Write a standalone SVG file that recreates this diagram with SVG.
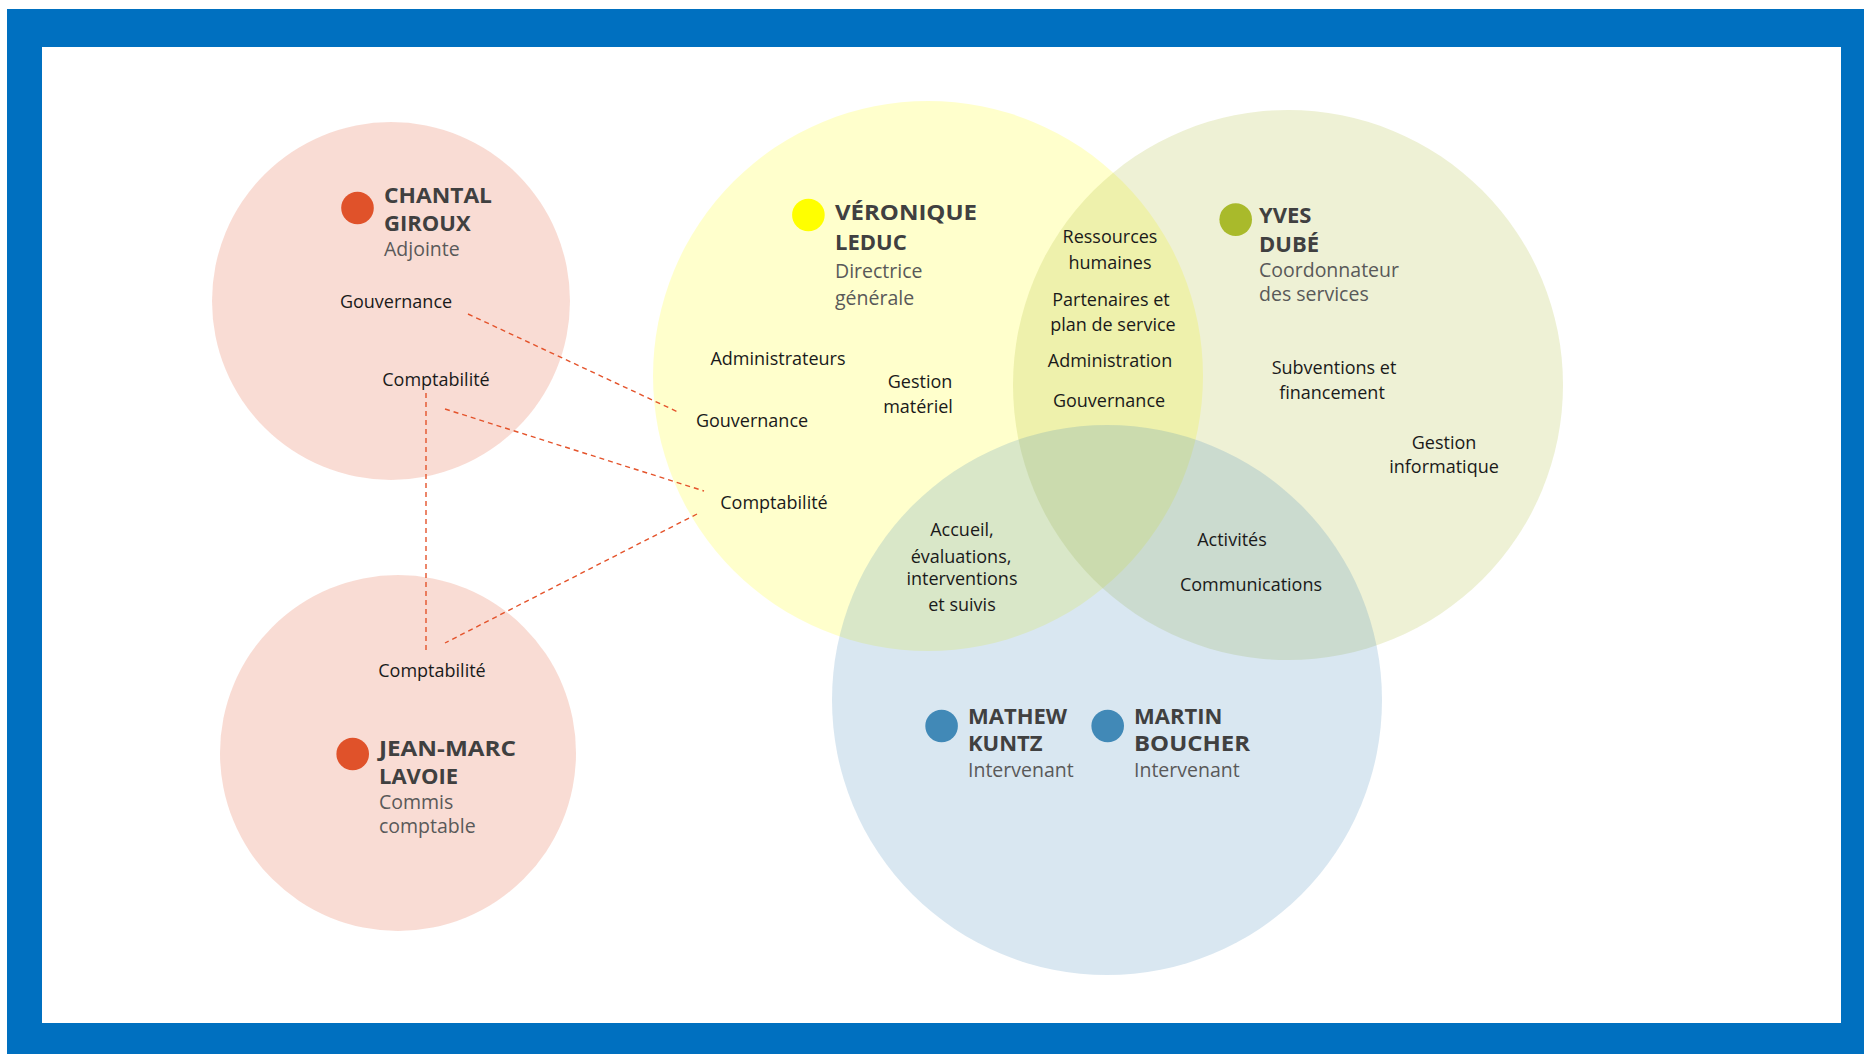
<svg xmlns="http://www.w3.org/2000/svg" width="1864" height="1054" viewBox="0 0 1864 1054">
<style>
.name{font-family:"Open Sans","Liberation Sans",sans-serif;font-weight:bold;font-size:22px;fill:#404040}
.role{font-family:"Open Sans","Liberation Sans",sans-serif;font-size:19.5px;fill:#595959}
.lbl{font-family:"Open Sans","Liberation Sans",sans-serif;font-size:18px;fill:#1a1a1a;text-anchor:middle}
.circ{opacity:0.2}
.dash{stroke:#E4532B;stroke-width:1.4;stroke-dasharray:5 4;fill:none}
</style>
<rect x="0" y="0" width="1864" height="1054" fill="#ffffff"/>
<rect x="7" y="9" width="1857" height="1045" fill="#0070C0"/>
<rect x="42" y="47" width="1799" height="976" fill="#ffffff"/>

<g id="circles">
<circle class="circ" cx="391" cy="301" r="179" fill="#E0522A"/>
<circle class="circ" cx="398" cy="753" r="178" fill="#E0522A"/>
<circle class="circ" cx="928" cy="376" r="275" fill="#FFFF00"/>
<circle class="circ" cx="1288" cy="385" r="275" fill="#A9BA2B"/>
<circle class="circ" cx="1107" cy="700" r="275" fill="#4189B7"/>
</g>

<g id="connectors">
<line class="dash" x1="468" y1="314" x2="678" y2="412"/>
<line class="dash" x1="445" y1="409" x2="704" y2="491"/>
<line class="dash" x1="426" y1="393" x2="426" y2="652"/>
<line class="dash" x1="697" y1="514" x2="445" y2="643"/>
</g>

<g id="chantal">
<circle cx="357.5" cy="208" r="16.3" fill="#E0522A"/>
<text class="name" x="384" y="203" textLength="108" lengthAdjust="spacingAndGlyphs">CHANTAL</text>
<text class="name" x="384" y="231">GIROUX</text>
<text class="role" x="384" y="256">Adjointe</text>
<text class="lbl" x="396" y="308">Gouvernance</text>
<text class="lbl" x="436" y="386">Comptabilité</text>
</g>

<g id="jeanmarc">
<circle cx="352.7" cy="754" r="16.3" fill="#E0522A"/>
<text class="lbl" x="432" y="677">Comptabilité</text>
<text class="name" x="379" y="756" textLength="137" lengthAdjust="spacingAndGlyphs">JEAN-MARC</text>
<text class="name" x="379" y="784">LAVOIE</text>
<text class="role" x="379" y="809">Commis</text>
<text class="role" x="379" y="833">comptable</text>
</g>

<g id="veronique">
<circle cx="808.4" cy="215" r="16.3" fill="#FFFF00"/>
<text class="name" x="835" y="220" textLength="142" lengthAdjust="spacingAndGlyphs">VÉRONIQUE</text>
<text class="name" x="835" y="250">LEDUC</text>
<text class="role" x="835" y="278">Directrice</text>
<text class="role" x="835" y="305">générale</text>
<text class="lbl" x="778" y="365">Administrateurs</text>
<text class="lbl" x="920" y="388">Gestion</text>
<text class="lbl" x="918" y="413">matériel</text>
<text class="lbl" x="752" y="427">Gouvernance</text>
<text class="lbl" x="774" y="509">Comptabilité</text>
</g>

<g id="shared-veronique-yves">
<text class="lbl" x="1110" y="243">Ressources</text>
<text class="lbl" x="1110" y="269">humaines</text>
<text class="lbl" x="1111" y="306">Partenaires et</text>
<text class="lbl" x="1113" y="331">plan de service</text>
<text class="lbl" x="1110" y="367">Administration</text>
<text class="lbl" x="1109" y="407">Gouvernance</text>
</g>

<g id="yves">
<circle cx="1235.7" cy="219.6" r="16.3" fill="#A9BA2B"/>
<text class="name" x="1259" y="223">YVES</text>
<text class="name" x="1259" y="252">DUBÉ</text>
<text class="role" x="1259" y="277">Coordonnateur</text>
<text class="role" x="1259" y="301">des services</text>
<text class="lbl" x="1334" y="374">Subventions et</text>
<text class="lbl" x="1332" y="399">financement</text>
<text class="lbl" x="1444" y="449">Gestion</text>
<text class="lbl" x="1444" y="473">informatique</text>
</g>

<g id="shared-veronique-intervenants">
<text class="lbl" x="962" y="536">Accueil,</text>
<text class="lbl" x="961" y="563">évaluations,</text>
<text class="lbl" x="962" y="585">interventions</text>
<text class="lbl" x="962" y="611">et suivis</text>
</g>

<g id="shared-yves-intervenants">
<text class="lbl" x="1232" y="546">Activités</text>
<text class="lbl" x="1251" y="591">Communications</text>
</g>

<g id="mathew">
<circle cx="941.6" cy="726" r="16.3" fill="#4189B7"/>
<text class="name" x="968" y="724">MATHEW</text>
<text class="name" x="968" y="751">KUNTZ</text>
<text class="role" x="968" y="777">Intervenant</text>
</g>

<g id="martin">
<circle cx="1107.7" cy="726" r="16.3" fill="#4189B7"/>
<text class="name" x="1134" y="724">MARTIN</text>
<text class="name" x="1134" y="751" textLength="116" lengthAdjust="spacingAndGlyphs">BOUCHER</text>
<text class="role" x="1134" y="777">Intervenant</text>
</g>
</svg>
